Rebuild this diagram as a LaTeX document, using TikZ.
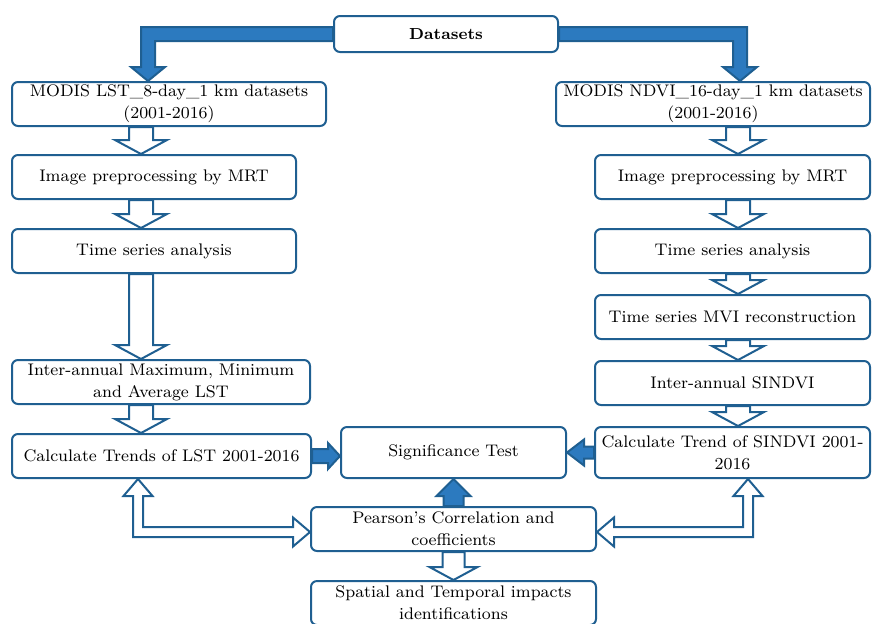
\documentclass[tikz,border=0pt]{standalone}
\usepackage{tikz}
\usetikzlibrary{calc}

\definecolor{flowblue}{RGB}{31,95,145}
\definecolor{arrowfill}{RGB}{44,122,191}

\begin{document}
\begin{tikzpicture}[x=0.5pt, y=-0.5pt, every node/.style={font=\fontsize{8.4}{11}\selectfont}]
    \tikzstyle{box} = [rectangle, rounded corners=3pt, draw=flowblue, line width=1pt, fill=white, align=center, inner sep=0pt, minimum height=22pt]
    \tikzstyle{hollow} = [draw=flowblue, line width=1pt, fill=white, line join=miter]
    \tikzstyle{filledarrow} = [draw=flowblue, line width=1pt, fill=arrowfill, line join=miter]

    \useasboundingbox (0,0) rectangle (872,623);

    \node (data) [box, minimum width=112pt, minimum height=18pt, font=\fontsize{8}{11}\selectfont\bfseries] at (446,34) {Datasets};

    % LST side
    \node (lst) [box, minimum width=157pt] at (169,104) {MODIS LST\_8-day\_1 km datasets\\(2001-2016)};
    \node (lpre) [box, minimum width=142pt] at (154,177) {Image preprocessing by MRT};
    \node (lts) [box, minimum width=142pt] at (154,251) {Time series analysis};
    \node (linter) [box, minimum width=149pt] at (161,382) {Inter-annual Maximum, Minimum\\and Average LST};
    \node (ltrend) [box, minimum width=149.5pt] at (161.5,456) {Calculate Trends of LST 2001-2016};

    % NDVI side
    \node (ndvi) [box, minimum width=157pt] at (713,104) {MODIS NDVI\_16-day\_1 km datasets\\(2001-2016)};
    \node (rpre) [box, minimum width=137.5pt] at (732.5,177) {Image preprocessing by MRT};
    \node (rts) [box, minimum width=137.5pt] at (732.5,251) {Time series analysis};
    \node (rmvi) [box, minimum width=137.5pt] at (732.5,317) {Time series MVI reconstruction};
    \node (rinter) [box, minimum width=137.5pt] at (732.5,383) {Inter-annual SINDVI};
    \node (rtrend) [box, minimum width=137.5pt, minimum height=25.5pt] at (732.5,452.5) {Calculate Trend of SINDVI 2001-\\2016};

    % middle
    \node (sig) [box, minimum width=112.5pt, minimum height=25.5pt] at (453.5,452.5) {Significance Test};
    \node (pear) [box, minimum width=142.5pt] at (453.5,529) {Pearson's Correlation and\\coefficients};
    \node (spat) [box, minimum width=142.5pt] at (453.5,603) {Spatial and Temporal impacts\\identifications};

    \coordinate (lcol) at (141,0);
    \coordinate (rcol) at (738,0);
    \coordinate (dcolL) at (148,0);
    \coordinate (dcolR) at (740,0);
    \coordinate (lbend) at (138,532);
    \coordinate (rbend) at (748,532);

    % datasets split
    \draw [filledarrow] ($(data.west)+(0,-7)$) -- ($(data.west -| dcolL)+(-7,-7)$) -- ($(lst.north -| dcolL)+(-7,-14)$) -- ($(lst.north -| dcolL)+(-17,-14)$) -- (lst.north -| dcolL) -- ($(lst.north -| dcolL)+(17,-14)$) -- ($(lst.north -| dcolL)+(7,-14)$) -- ($(data.west -| dcolL)+(7,7)$) -- ($(data.west)+(0,7)$) -- cycle;
    \draw [filledarrow] ($(data.east)+(0,-7)$) -- ($(data.east -| dcolR)+(7,-7)$) -- ($(ndvi.north -| dcolR)+(7,-14)$) -- ($(ndvi.north -| dcolR)+(17,-14)$) -- (ndvi.north -| dcolR) -- ($(ndvi.north -| dcolR)+(-17,-14)$) -- ($(ndvi.north -| dcolR)+(-7,-14)$) -- ($(data.east -| dcolR)+(-7,7)$) -- ($(data.east)+(0,7)$) -- cycle;

    % down the two columns
    \foreach \a/\b/\c in {lst/lpre/lcol, lpre/lts/lcol, lts/linter/lcol, linter/ltrend/lcol, ndvi/rpre/rcol, rpre/rts/rcol, rts/rmvi/rcol, rmvi/rinter/rcol, rinter/rtrend/rcol}
        \draw [hollow] ($(\a.south -| \c)+(-12,0)$) -- ($(\b.north -| \c)+(-12,-14)$) -- ($(\b.north -| \c)+(-26,-14)$) -- (\b.north -| \c) -- ($(\b.north -| \c)+(26,-14)$) -- ($(\b.north -| \c)+(12,-14)$) -- ($(\a.south -| \c)+(12,0)$) -- cycle;

    % into the significance test
    \draw [filledarrow] ($(ltrend.east)+(0,-7)$) -- ($(sig.west |- ltrend.east)+(-12,-7)$) -- ($(sig.west |- ltrend.east)+(-12,-13)$) -- (sig.west |- ltrend.east) -- ($(sig.west |- ltrend.east)+(-12,13)$) -- ($(sig.west |- ltrend.east)+(-12,7)$) -- ($(ltrend.east)+(0,7)$) -- cycle;
    \draw [filledarrow] ($(rtrend.west)+(0,-6)$) -- ($(sig.east)+(17,-6)$) -- ($(sig.east)+(17,-13)$) -- (sig.east) -- ($(sig.east)+(17,13)$) -- ($(sig.east)+(17,6)$) -- ($(rtrend.west)+(0,6)$) -- cycle;
    \draw [filledarrow] ($(pear.north)+(-10,0)$) -- ($(sig.south)+(-10,17)$) -- ($(sig.south)+(-17,17)$) -- (sig.south) -- ($(sig.south)+(17,17)$) -- ($(sig.south)+(10,17)$) -- ($(pear.north)+(10,0)$) -- cycle;

    % correlation links
    \draw [hollow] (ltrend.south -| lbend) -- ($(ltrend.south -| lbend)+(14.5,17)$) -- ($(ltrend.south -| lbend)+(5,17)$) -- ($(lbend)+(5,-5)$) -- ($(pear.west |- lbend)+(-17,-5)$) -- ($(pear.west |- lbend)+(-17,-14.5)$) -- (pear.west |- lbend) -- ($(pear.west |- lbend)+(-17,14.5)$) -- ($(pear.west |- lbend)+(-17,5)$) -- ($(lbend)+(-5,5)$) -- ($(ltrend.south -| lbend)+(-5,17)$) -- ($(ltrend.south -| lbend)+(-14.5,17)$) -- cycle;
    \draw [hollow] (rtrend.south -| rbend) -- ($(rtrend.south -| rbend)+(-14.5,17)$) -- ($(rtrend.south -| rbend)+(-5,17)$) -- ($(rbend)+(-5,-5)$) -- ($(pear.east |- rbend)+(17,-5)$) -- ($(pear.east |- rbend)+(17,-14.5)$) -- (pear.east |- rbend) -- ($(pear.east |- rbend)+(17,14.5)$) -- ($(pear.east |- rbend)+(17,5)$) -- ($(rbend)+(5,5)$) -- ($(rtrend.south -| rbend)+(5,17)$) -- ($(rtrend.south -| rbend)+(14.5,17)$) -- cycle;

    \draw [hollow] ($(pear.south)+(-11,0)$) -- ($(spat.north)+(-11,-13)$) -- ($(spat.north)+(-24,-13)$) -- (spat.north) -- ($(spat.north)+(24,-13)$) -- ($(spat.north)+(11,-13)$) -- ($(pear.south)+(11,0)$) -- cycle;
\end{tikzpicture}
\end{document}
